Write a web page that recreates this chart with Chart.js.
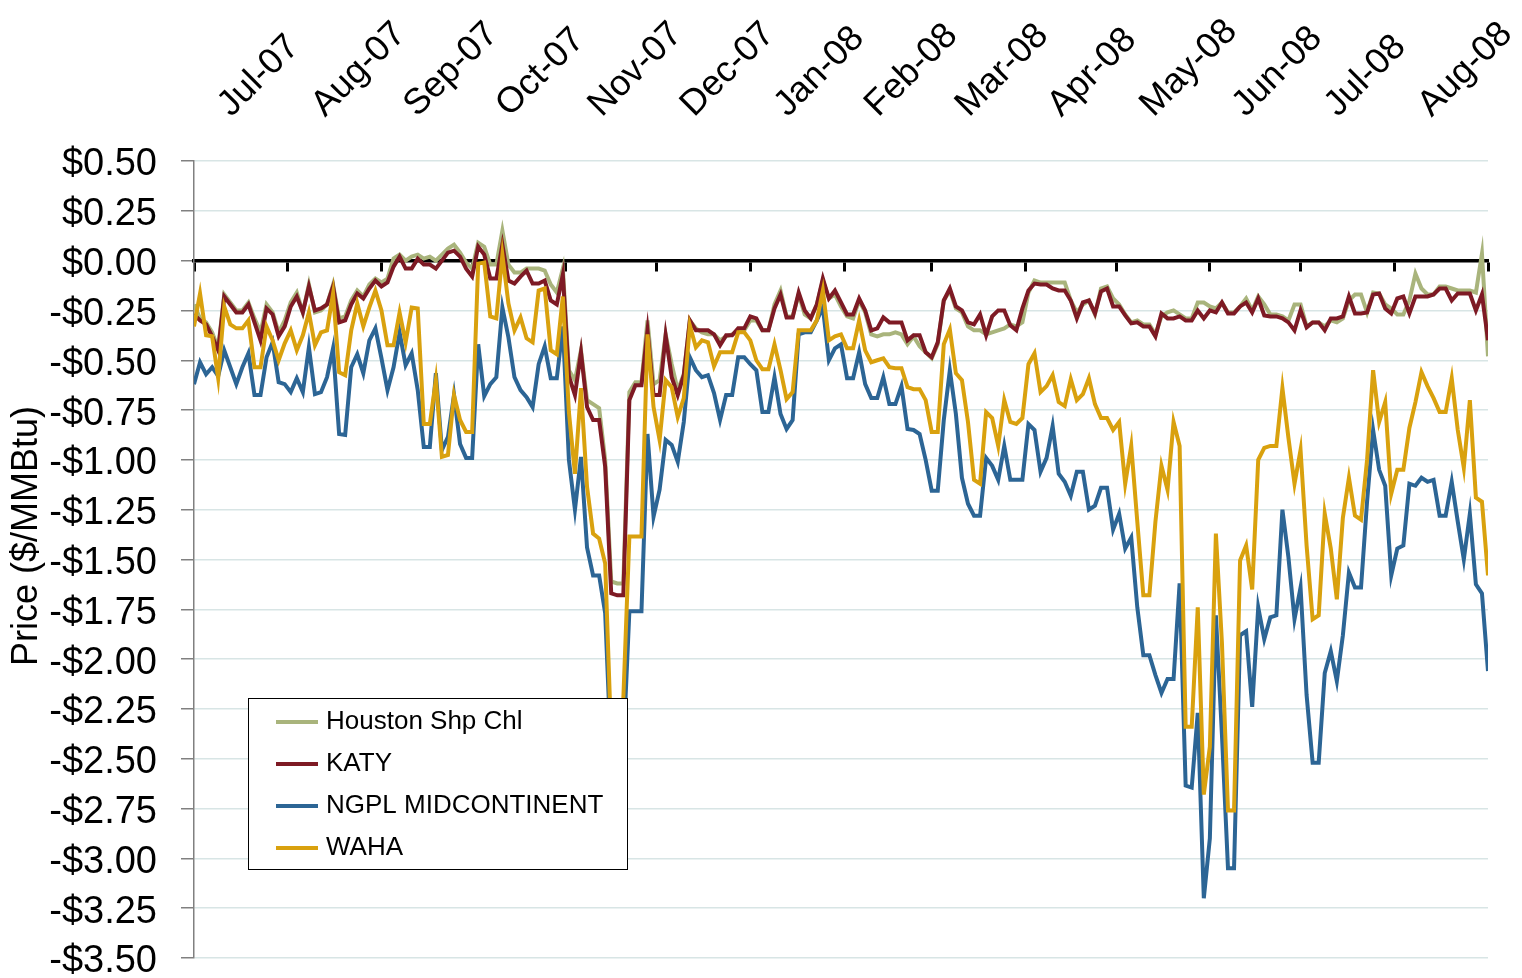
<!DOCTYPE html>
<html>
<head>
<meta charset="utf-8">
<title>Daily basis prices</title>
<script src="https://cdn.jsdelivr.net/npm/chart.js@4.4.1/dist/chart.umd.min.js"></script>
<style>
  html, body { margin: 0; padding: 0; background: #fff; }
  canvas { display: block; }
</style>
</head>
<body>
<canvas id="chart" width="1522" height="978"></canvas>
<script>
// Month labels shown along the top of the chart
const monthLabels = ["Jul-07", "Aug-07", "Sep-07", "Oct-07", "Nov-07", "Dec-07", "Jan-08",
  "Feb-08", "Mar-08", "Apr-08", "May-08", "Jun-08", "Jul-08", "Aug-08"]

// Day offset (from 1 Jul 2007) of the first day of each month, up to 1 Sep 2008
const monthStarts = [0, 31, 62, 92, 123, 153, 184, 215, 244, 275, 305, 336, 366, 397, 428]

// Basis prices ($/MMBtu), one reading every second day from 1 Jul 2007
const houston = [
  -0.22, -0.29, -0.31, -0.36, -0.44, -0.17, -0.21, -0.25, -0.25, -0.21, -0.29, -0.36, -0.22, -0.26, -0.36,
  -0.30, -0.21, -0.16, -0.26, -0.12, -0.26, -0.25, -0.22, -0.12, -0.29, -0.28, -0.20, -0.15, -0.18, -0.12,
  -0.09, -0.11, -0.09, 0.01, 0.03, 0.00, 0.02, 0.03, 0.01, 0.02, 0.00, 0.03, 0.06, 0.08, 0.04,
  -0.01, -0.04, 0.09, 0.07, -0.02, -0.02, 0.15, -0.02, -0.06, -0.06, -0.04, -0.04, -0.04, -0.05, -0.12,
  -0.16, -0.04, -0.55, -0.60, -0.45, -0.70, -0.72, -0.74, -1.00, -1.61, -1.62, -1.62, -0.66, -0.61, -0.61,
  -0.30, -0.62, -0.60, -0.37, -0.52, -0.65, -0.57, -0.30, -0.34, -0.36, -0.37, -0.37, -0.40, -0.38, -0.37,
  -0.35, -0.35, -0.30, -0.30, -0.35, -0.35, -0.22, -0.15, -0.28, -0.28, -0.17, -0.27, -0.29, -0.22, -0.10,
  -0.19, -0.17, -0.23, -0.28, -0.29, -0.20, -0.26, -0.37, -0.38, -0.37, -0.37, -0.36, -0.37, -0.42, -0.38,
  -0.43, -0.46, -0.49, -0.42, -0.20, -0.15, -0.24, -0.26, -0.33, -0.35, -0.35, -0.37, -0.36, -0.35, -0.34,
  -0.32, -0.33, -0.31, -0.16, -0.10, -0.11, -0.11, -0.11, -0.11, -0.11, -0.20, -0.26, -0.22, -0.20, -0.27,
  -0.14, -0.13, -0.19, -0.22, -0.27, -0.31, -0.30, -0.32, -0.32, -0.37, -0.28, -0.26, -0.25, -0.27, -0.29,
  -0.29, -0.21, -0.21, -0.23, -0.24, -0.21, -0.26, -0.26, -0.23, -0.19, -0.25, -0.18, -0.22, -0.27, -0.27,
  -0.28, -0.30, -0.22, -0.22, -0.33, -0.31, -0.31, -0.33, -0.30, -0.31, -0.29, -0.20, -0.17, -0.17, -0.26,
  -0.16, -0.165, -0.22, -0.24, -0.27, -0.27, -0.20, -0.065, -0.14, -0.17, -0.17, -0.13, -0.13, -0.14, -0.15,
  -0.15, -0.15, -0.16, 0.035, -0.48
]

const katy = [
  -0.27, -0.30, -0.32, -0.38, -0.45, -0.18, -0.22, -0.26, -0.26, -0.22, -0.31, -0.40, -0.24, -0.27, -0.38,
  -0.33, -0.23, -0.18, -0.26, -0.13, -0.25, -0.24, -0.22, -0.13, -0.31, -0.30, -0.22, -0.165, -0.19, -0.14,
  -0.10, -0.13, -0.11, -0.03, 0.02, -0.04, -0.04, 0.01, -0.02, -0.02, -0.04, 0.00, 0.04, 0.05, 0.02,
  -0.04, -0.08, 0.07, 0.03, -0.09, -0.09, 0.08, -0.10, -0.115, -0.08, -0.05, -0.115, -0.115, -0.10, -0.20,
  -0.22, -0.07, -0.58, -0.675, -0.46, -0.735, -0.80, -0.80, -1.035, -1.67, -1.68, -1.68, -0.70, -0.625, -0.625,
  -0.35, -0.675, -0.675, -0.375, -0.585, -0.675, -0.575, -0.30, -0.35, -0.35, -0.35, -0.37, -0.425, -0.375, -0.375,
  -0.34, -0.34, -0.28, -0.29, -0.35, -0.35, -0.24, -0.17, -0.285, -0.285, -0.16, -0.25, -0.29, -0.22, -0.09,
  -0.19, -0.15, -0.21, -0.27, -0.27, -0.19, -0.25, -0.35, -0.34, -0.285, -0.31, -0.31, -0.31, -0.40, -0.375,
  -0.375, -0.46, -0.485, -0.41, -0.20, -0.14, -0.23, -0.25, -0.31, -0.32, -0.27, -0.375, -0.28, -0.25, -0.25,
  -0.325, -0.35, -0.24, -0.15, -0.115, -0.12, -0.12, -0.14, -0.15, -0.15, -0.20, -0.29, -0.21, -0.20, -0.265,
  -0.155, -0.14, -0.23, -0.23, -0.275, -0.315, -0.31, -0.33, -0.33, -0.38, -0.265, -0.29, -0.29, -0.28, -0.30,
  -0.30, -0.25, -0.29, -0.25, -0.26, -0.21, -0.265, -0.265, -0.23, -0.21, -0.26, -0.19, -0.275, -0.28, -0.28,
  -0.29, -0.31, -0.35, -0.25, -0.335, -0.31, -0.31, -0.35, -0.29, -0.29, -0.28, -0.18, -0.265, -0.265, -0.26,
  -0.17, -0.165, -0.24, -0.265, -0.19, -0.18, -0.265, -0.18, -0.18, -0.18, -0.17, -0.14, -0.14, -0.20, -0.165,
  -0.165, -0.165, -0.25, -0.17, -0.40
]

const ngpl = [
  -0.62, -0.51, -0.57, -0.535, -0.58, -0.45, -0.535, -0.62, -0.535, -0.465, -0.675, -0.675, -0.485, -0.41, -0.61,
  -0.62, -0.66, -0.59, -0.66, -0.435, -0.67, -0.66, -0.585, -0.44, -0.87, -0.875, -0.535, -0.47, -0.565, -0.40,
  -0.34, -0.49, -0.65, -0.535, -0.36, -0.525, -0.465, -0.65, -0.935, -0.935, -0.565, -0.95, -0.885, -0.675, -0.92,
  -0.99, -0.99, -0.42, -0.68, -0.62, -0.585, -0.235, -0.385, -0.585, -0.65, -0.685, -0.735, -0.52, -0.43, -0.59,
  -0.59, -0.33, -1.00, -1.25, -0.985, -1.44, -1.58, -1.58, -1.77, -2.50, -2.70, -2.45, -1.76, -1.76, -1.76,
  -0.87, -1.285, -1.15, -0.90, -0.925, -1.01, -0.81, -0.485, -0.55, -0.585, -0.575, -0.665, -0.80, -0.675, -0.675,
  -0.485, -0.485, -0.52, -0.55, -0.76, -0.76, -0.585, -0.77, -0.845, -0.80, -0.37, -0.36, -0.36, -0.30, -0.235,
  -0.50, -0.44, -0.42, -0.59, -0.59, -0.46, -0.62, -0.69, -0.69, -0.585, -0.72, -0.72, -0.63, -0.845, -0.85,
  -0.87, -1.00, -1.155, -1.155, -0.80, -0.55, -0.77, -1.09, -1.22, -1.28, -1.28, -0.99, -1.03, -1.10, -0.93,
  -1.10, -1.10, -1.10, -0.82, -0.85, -1.06, -0.99, -0.83, -1.07, -1.11, -1.18, -1.06, -1.06, -1.25, -1.23,
  -1.14, -1.14, -1.35, -1.27, -1.445, -1.39, -1.74, -1.98, -1.98, -2.08, -2.17, -2.10, -2.10, -1.62, -2.635,
  -2.645, -2.27, -3.20, -2.90, -1.78, -2.38, -3.05, -3.05, -1.88, -1.86, -2.24, -1.74, -1.90, -1.79, -1.78,
  -1.25, -1.49, -1.80, -1.64, -2.18, -2.52, -2.52, -2.07, -1.96, -2.11, -1.88, -1.565, -1.64, -1.64, -1.21,
  -0.85, -1.05, -1.13, -1.58, -1.445, -1.43, -1.12, -1.13, -1.09, -1.11, -1.10, -1.28, -1.28, -1.11, -1.31,
  -1.50, -1.27, -1.625, -1.67, -2.06
]

const waha = [
  -0.33, -0.165, -0.375, -0.38, -0.59, -0.23, -0.32, -0.34, -0.34, -0.30, -0.535, -0.535, -0.33, -0.40, -0.50,
  -0.415, -0.35, -0.45, -0.375, -0.26, -0.425, -0.36, -0.35, -0.165, -0.56, -0.575, -0.35, -0.215, -0.33, -0.235,
  -0.15, -0.25, -0.425, -0.425, -0.26, -0.41, -0.235, -0.24, -0.82, -0.82, -0.60, -0.985, -0.975, -0.675, -0.80,
  -0.86, -0.86, -0.015, -0.01, -0.28, -0.29, 0.03, -0.215, -0.35, -0.285, -0.39, -0.41, -0.15, -0.14, -0.45,
  -0.47, -0.18, -0.76, -1.07, -0.64, -1.135, -1.37, -1.395, -1.52, -2.40, -2.60, -2.20, -1.385, -1.385, -1.385,
  -0.37, -0.735, -0.90, -0.60, -0.635, -0.785, -0.69, -0.325, -0.435, -0.40, -0.41, -0.53, -0.46, -0.46, -0.46,
  -0.36, -0.36, -0.40, -0.50, -0.545, -0.545, -0.42, -0.55, -0.695, -0.66, -0.35, -0.35, -0.35, -0.30, -0.15,
  -0.40, -0.38, -0.37, -0.44, -0.44, -0.30, -0.45, -0.51, -0.50, -0.49, -0.535, -0.54, -0.54, -0.635, -0.645,
  -0.645, -0.70, -0.86, -0.86, -0.42, -0.345, -0.565, -0.60, -0.81, -1.10, -1.12, -0.76, -0.79, -0.93, -0.70,
  -0.81, -0.82, -0.79, -0.52, -0.465, -0.66, -0.63, -0.575, -0.71, -0.73, -0.595, -0.70, -0.67, -0.59, -0.72,
  -0.79, -0.79, -0.85, -0.81, -1.12, -0.93, -1.31, -1.68, -1.68, -1.31, -1.03, -1.15, -0.81, -0.93, -2.34,
  -2.34, -1.74, -2.68, -2.44, -1.37, -1.92, -2.76, -2.76, -1.505, -1.43, -1.65, -1.00, -0.94, -0.93, -0.93,
  -0.64, -0.89, -1.12, -0.95, -1.43, -1.80, -1.78, -1.27, -1.445, -1.70, -1.29, -1.09, -1.28, -1.30, -1.00,
  -0.55, -0.81, -0.71, -1.17, -1.05, -1.05, -0.84, -0.71, -0.56, -0.63, -0.69, -0.76, -0.76, -0.59, -0.85,
  -1.04, -0.70, -1.19, -1.21, -1.58
]

const seriesNames = ["Houston Shp Chl", "KATY", "NGPL MIDCONTINENT", "WAHA"]
const seriesColors = ["#a9b47c", "#7e1a24", "#2c6595", "#d9a10e"]

// x position of every reading, in days from 1 Jul 2007
const days = houston.map((_, i) => i * 2)
const monthMids = monthLabels.map((_, i) => (monthStarts[i] + monthStarts[i + 1]) / 2)

const FONT = "'Liberation Sans', Arial, sans-serif"
Chart.defaults.font.family = FONT
Chart.defaults.color = "#000"

const toPoints = (values) => values.map((v, i) => ({ x: days[i], y: v }))

function money(v) {
  const r = Math.round(v * 100) / 100
  return (r < 0 ? "-$" : "$") + Math.abs(r).toFixed(2)
}

// Legend drawn inside the plot, over the lines, like the original
const legendBox = {
  id: "legendBox",
  afterDatasetsDraw(chart) {
    const ctx = chart.ctx
    ctx.save()
    ctx.fillStyle = "#fff"
    ctx.fillRect(248, 698, 379, 171)
    ctx.strokeStyle = "#000"
    ctx.lineWidth = 1
    ctx.strokeRect(248.5, 698.5, 379, 171)
    ctx.font = "26px " + FONT
    ctx.textBaseline = "middle"
    chart.data.datasets.forEach((ds, i) => {
      const y = 722 + i * 42
      ctx.strokeStyle = ds.borderColor
      ctx.lineWidth = 4
      ctx.beginPath()
      ctx.moveTo(276, y)
      ctx.lineTo(318, y)
      ctx.stroke()
      ctx.fillStyle = "#000"
      ctx.fillText(ds.label, 326, y)
    })
    ctx.restore()
  }
}

// Vertical axis title, placed where the original has it
const yTitle = {
  id: "yTitle",
  afterDraw(chart) {
    const ctx = chart.ctx
    ctx.save()
    ctx.translate(27, 536)
    ctx.rotate(-Math.PI / 2)
    ctx.font = "36px " + FONT
    ctx.fillStyle = "#000"
    ctx.textAlign = "center"
    ctx.textBaseline = "middle"
    ctx.fillText("Price ($/MMBtu)", 0, 0)
    ctx.restore()
  }
}

const series = [houston, katy, ngpl, waha]

new Chart(document.getElementById("chart"), {
  type: "line",
  data: {
    datasets: series.map((values, i) => ({
      label: seriesNames[i],
      data: toPoints(values),
      borderColor: seriesColors[i],
      backgroundColor: seriesColors[i],
      borderWidth: 4,
      pointRadius: 0,
      tension: 0,
      fill: false,
      order: 4 - i
    }))
  },
  options: {
    responsive: false,
    animation: false,
    devicePixelRatio: 1,
    layout: { padding: { top: 0, left: 0, right: 34, bottom: 20 } },
    plugins: {
      legend: { display: false },
      tooltip: { enabled: false }
    },
    scales: {
      // zero line with month tick marks hanging below it
      x: {
        type: "linear",
        position: { y: 0 },
        min: 0,
        max: 428,
        afterBuildTicks: (axis) => {
          axis.ticks = monthStarts.map(v => ({ value: v }))
        },
        ticks: { display: false },
        grid: {
          drawOnChartArea: false,
          drawTicks: true,
          tickLength: 9,
          tickWidth: 3,
          tickColor: "#000"
        },
        border: { color: "#000", width: 3.5 }
      },
      // month names across the top
      xTop: {
        type: "linear",
        position: "top",
        min: 0,
        max: 428,
        afterBuildTicks: (axis) => {
          axis.ticks = monthMids.map(v => ({ value: v }))
        },
        afterFit: (axis) => {
          axis.height = 161
          axis.paddingLeft = 0
          axis.paddingRight = 0
        },
        ticks: {
          autoSkip: false,
          minRotation: 45,
          maxRotation: 45,
          padding: 35,
          labelOffset: 14,
          font: { size: 36 },
          color: "#000",
          callback: (value, index) => monthLabels[index]
        },
        grid: { display: false, drawTicks: false },
        border: { display: false }
      },
      y: {
        min: -3.5,
        max: 0.5,
        afterFit: (axis) => {
          axis.width = 194
          axis.paddingTop = 0
          axis.paddingBottom = 0
        },
        ticks: {
          stepSize: 0.25,
          padding: 24,
          labelOffset: 4,
          font: { size: 38 },
          color: "#000",
          callback: (value) => money(value)
        },
        grid: {
          color: "#d8e5e5",
          lineWidth: 1.5,
          tickLength: 13,
          tickColor: "#808080",
          tickWidth: 1.5
        },
        border: { color: "#808080", width: 1.5 }
      }
    }
  },
  plugins: [legendBox, yTitle]
})
</script>
</body>
</html>
